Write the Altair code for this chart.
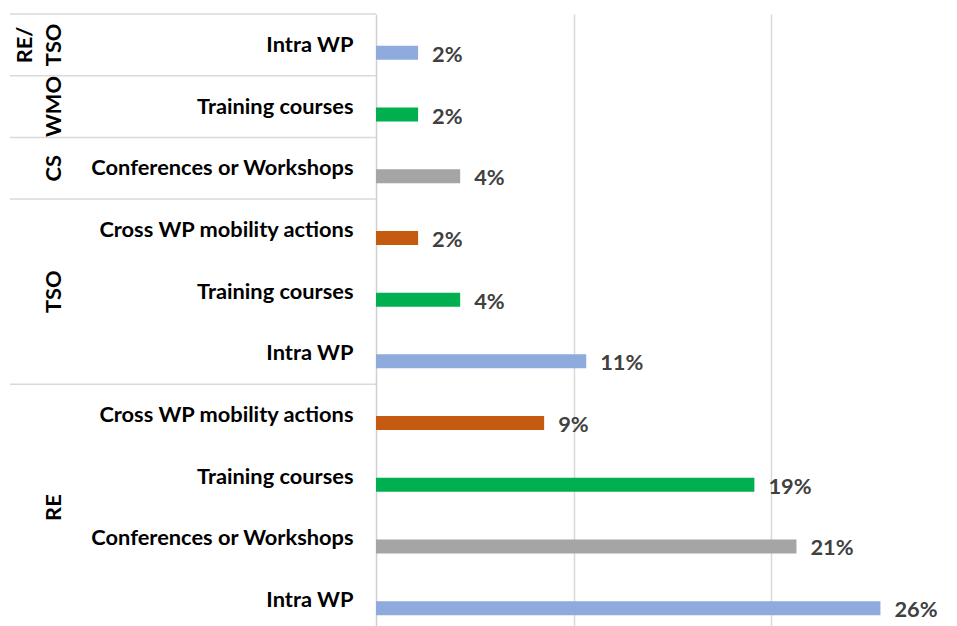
import altair as alt
import pandas as pd

# ---- data (top to bottom) ----
groups = ["RE/TSO", "WMO", "CS", "TSO", "TSO", "TSO", "RE", "RE", "RE", "RE"]
activities = [
    "Intra WP",
    "Training courses",
    "Conferences or Workshops",
    "Cross WP mobility actions",
    "Training courses",
    "Intra WP",
    "Cross WP mobility actions",
    "Training courses",
    "Conferences or Workshops",
    "Intra WP",
]
shares = [0.0213, 0.0213, 0.0426, 0.0213, 0.0426, 0.1064, 0.0851, 0.1915, 0.2128, 0.2553]

color_domain = ["Intra WP", "Training courses", "Conferences or Workshops", "Cross WP mobility actions"]
color_range = ["#8FAADC", "#00B050", "#A5A5A5", "#C55A11"]

FONT = "Lato"
FS = 21.8

rows = pd.DataFrame({"row": list(range(len(groups))), "group": groups,
                     "activity": activities, "share": shares})
rows["key"] = rows["row"].astype(str) + "|" + rows["activity"]
keys = list(rows["key"])

# group spans (consecutive runs)
spans = []
start = 0
for i in range(1, len(groups) + 1):
    if i == len(groups) or groups[i] != groups[start]:
        spans.append((groups[start], start, i))
        start = i

# group title lines ("RE/TSO" wraps after the slash)
line_recs = []
for g, s, e in spans:
    parts = g.replace("/", "/\n").split("\n")
    n = len(parts)
    for j, p in enumerate(parts):
        line_recs.append({"text": p, "mid": (s + e) / 2, "back": n - 1 - j})
grp_df = pd.DataFrame(line_recs)

bounds = sorted(set([s for g, s, e in spans] + [e for g, s, e in spans]))
bounds_df = pd.DataFrame({"b": bounds})

qscale = alt.Scale(domain=[0, len(groups)], reverse=True, nice=False, zero=False)
band_scale = alt.Scale(paddingInner=0, paddingOuter=0)

x_enc = alt.X("share:Q", scale=alt.Scale(domain=[0, 0.29], nice=False),
              axis=alt.Axis(values=[0.1, 0.2], labels=False, ticks=False, domain=False,
                            title=None, grid=True, gridColor="#D9D9D9", gridWidth=1.5))

y_axis = alt.Axis(title=None, labelExpr="split(datum.label, '|')[1]", ticks=False,
                  labelPadding=23, labelFont=FONT, labelFontSize=FS, labelFontWeight="bold",
                  labelColor="#000000", labelLimit=400, domainColor="#D0D0D0",
                  domainWidth=1.5, grid=False)

bars = alt.Chart(rows).mark_bar(size=14, yOffset=8).encode(
    x=x_enc,
    y=alt.Y("key:N", sort=keys, scale=band_scale, axis=y_axis),
    color=alt.Color("activity:N", scale=alt.Scale(domain=color_domain, range=color_range),
                    legend=None),
)

labels = alt.Chart(rows).mark_text(
    align="left", baseline="middle", dx=14, yOffset=10, font=FONT, fontSize=FS,
    fontWeight="bold", color="#404040"
).encode(
    x=alt.X("share:Q"),
    y=alt.Y("key:N", sort=keys, scale=band_scale, axis=None),
    text=alt.Text("share:Q", format=".0%"),
)

seps = alt.Chart(bounds_df).mark_rule(color="#D9D9D9", strokeWidth=1.5).encode(
    y=alt.Y("b:Q", scale=qscale, axis=None),
    x=alt.value(-366),
    x2=alt.value(0),
)

grp_style = dict(angle=270, align="center", baseline="bottom", font=FONT, fontSize=FS,
                 fontWeight="bold", color="#000000")

grp_last = alt.Chart(grp_df).transform_filter("datum.back == 0").mark_text(**grp_style).encode(
    y=alt.Y("mid:Q", scale=qscale, axis=None),
    x=alt.value(-310),
    text="text:N",
)
grp_prev = alt.Chart(grp_df).transform_filter("datum.back == 1").mark_text(**grp_style).encode(
    y=alt.Y("mid:Q", scale=qscale, axis=None),
    x=alt.value(-339),
    text="text:N",
)

chart = alt.layer(seps, bars, labels, grp_last, grp_prev).resolve_scale(y="independent").properties(
    width=573,
    height=617,
    padding={"left": 368, "top": 6, "right": 0, "bottom": 0},
    autosize=alt.AutoSizeParams(type="none"),
    background="white",
).configure_view(stroke=None)

chart.save("out.html", embed_options={"renderer": "svg", "actions": False})
